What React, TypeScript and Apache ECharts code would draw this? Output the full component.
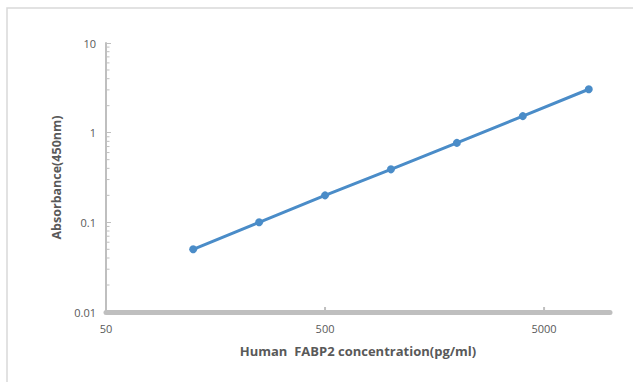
import React, { useEffect, useRef } from 'react';
import * as echarts from 'echarts';

// Data
const concentrations = [125, 250, 500, 1000, 2000, 4000, 8000]; // pg/ml
const absorbances = [0.05, 0.1, 0.2, 0.39, 0.77, 1.53, 3.05]; // OD 450nm
const xTickLabels = [50, 500, 5000];
const yDecades = [0.01, 0.1, 1];
const yMinorMultipliers = [2, 3, 4, 5, 6, 7, 8, 9];

const xTitle = 'Human  FABP2 concentration(pg/ml)';
const yTitle = 'Absorbance(450nm)';

const AXIS_COLOR = '#BFBFBF';
const TEXT_COLOR = '#595959';
const LINE_COLOR = '#4A8CC8';
const FONT = '"Open Sans", sans-serif';

export default function App() {
  const ref = useRef<HTMLDivElement>(null);

  useEffect(() => {
    if (!ref.current) return;
    const chart = echarts.init(ref.current, null, { renderer: 'svg' });
    const option: any = {
      animation: false,
      backgroundColor: '#FFFFFF',
      grid: { left: 106, right: 23, top: 43, bottom: 70, containLabel: false },
      xAxis: {
        type: 'log',
        logBase: 10,
        min: 50,
        max: 10000,
        name: xTitle,
        nameLocation: 'middle',
        nameGap: 32,
        nameTextStyle: { color: TEXT_COLOR, fontWeight: 'bold', fontSize: 13, fontFamily: FONT },
        axisLine: { show: true, lineStyle: { color: AXIS_COLOR, width: 5 } },
        axisTick: { show: false },
        axisLabel: { show: false },
        splitLine: { show: false },
        minorTick: { show: false },
      },
      yAxis: {
        type: 'log',
        logBase: 10,
        min: 0.01,
        max: 10,
        name: yTitle,
        nameLocation: 'middle',
        nameRotate: 90,
        nameGap: 42,
        nameTextStyle: { color: TEXT_COLOR, fontWeight: 'bold', fontSize: 12.5, fontFamily: FONT },
        axisLine: { show: true, lineStyle: { color: AXIS_COLOR, width: 2 } },
        axisTick: { show: true, inside: true, length: 5, lineStyle: { color: AXIS_COLOR, width: 1 } },
        axisLabel: {
          color: TEXT_COLOR,
          fontSize: 11,
          fontFamily: FONT,
          margin: 10,
          formatter: (v: number) => String(v),
        },
        splitLine: { show: false },
      },
      series: [
        {
          type: 'line',
          data: concentrations.map((c, i) => [c, absorbances[i]]),
          symbol: 'circle',
          symbolSize: 8,
          lineStyle: { color: LINE_COLOR, width: 3 },
          itemStyle: { color: LINE_COLOR },
          z: 5,
        },
      ],
    };
    chart.setOption(option);

    const graphics: any[] = [];
    // outer chart-area border (left and top edges visible)
    graphics.push({
      type: 'rect',
      shape: { x: 7, y: 8, width: 700, height: 420 },
      style: { fill: 'none', stroke: '#D9D9D9', lineWidth: 1.5 },
      silent: true,
      z: -1,
    });
    const yBase = chart.convertToPixel({ yAxisIndex: 0 }, 0.01) as number;
    const xAxisPx = chart.convertToPixel({ xAxisIndex: 0 }, 50) as number;
    // x-axis labels and major ticks
    xTickLabels.forEach((v) => {
      const px = chart.convertToPixel({ xAxisIndex: 0 }, v) as number;
      graphics.push({
        type: 'text',
        x: px,
        y: yBase + 16,
        style: {
          text: String(v),
          fill: TEXT_COLOR,
          font: `11px ${FONT}`,
          align: 'center',
          verticalAlign: 'middle',
        },
        silent: true,
      });
      graphics.push({
        type: 'line',
        shape: { x1: px, y1: yBase - 5, x2: px, y2: yBase },
        style: { stroke: AXIS_COLOR, lineWidth: 2 },
        silent: true,
      });
    });
    // y-axis minor ticks (2..9 in each decade)
    yDecades.forEach((d) => {
      yMinorMultipliers.forEach((m) => {
        const py = chart.convertToPixel({ yAxisIndex: 0 }, d * m) as number;
        graphics.push({
          type: 'line',
          shape: { x1: xAxisPx, y1: py, x2: xAxisPx + 3.5, y2: py },
          style: { stroke: AXIS_COLOR, lineWidth: 1 },
          silent: true,
        });
      });
    });
    chart.setOption({ graphic: graphics });

    return () => chart.dispose();
  }, []);

  return (
    <div
      ref={ref}
      style={{ position: 'fixed', left: 0, top: 0, width: 633, height: 382 }}
    />
  );
}
